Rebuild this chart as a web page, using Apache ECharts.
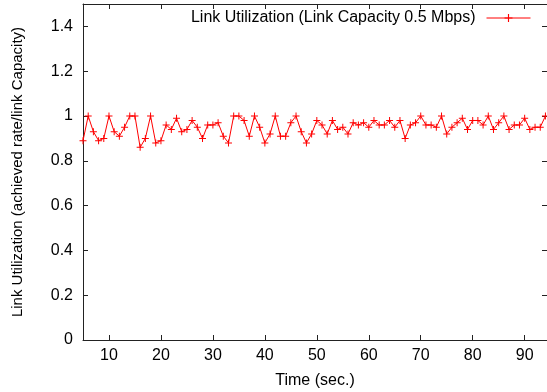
<!DOCTYPE html>
<html>
<head>
<meta charset="utf-8">
<title>Link Utilization</title>
<script src="https://cdn.jsdelivr.net/npm/echarts@6/dist/echarts.min.js"></script>
<style>
    html, body { margin: 0; padding: 0; background: #fff; }
    #container { width: 547px; height: 392px; }
</style>
</head>
<body>
<div id="container"></div>
<script>
// time of each sample (sec.)
const times = [
    5, 6, 7, 8, 9, 10, 11, 12, 13, 14, 15, 16, 17, 18, 19, 20, 21, 22, 23, 24,
    25, 26, 27, 28, 29, 30, 31, 32, 33, 34, 35, 36, 37, 38, 39, 40, 41, 42, 43, 44,
    45, 46, 47, 48, 49, 50, 51, 52, 53, 54, 55, 56, 57, 58, 59, 60, 61, 62, 63, 64,
    65, 66, 67, 68, 69, 70, 71, 72, 73, 74, 75, 76, 77, 78, 79, 80, 81, 82, 83, 84,
    85, 86, 87, 88, 89, 90, 91, 92, 93, 94
];

// achieved rate / link capacity
const utilization = [
    0.89, 1.00, 0.93, 0.89, 0.90, 1.00, 0.93, 0.91, 0.95, 1.00,
    1.00, 0.86, 0.90, 1.00, 0.88, 0.89, 0.96, 0.94, 0.99, 0.93,
    0.94, 0.98, 0.95, 0.90, 0.96, 0.96, 0.97, 0.91, 0.88, 1.00,
    1.00, 0.98, 0.91, 1.00, 0.95, 0.88, 0.92, 1.00, 0.91, 0.91,
    0.97, 1.00, 0.93, 0.88, 0.92, 0.98, 0.96, 0.92, 0.98, 0.94,
    0.95, 0.92, 0.97, 0.96, 0.97, 0.95, 0.98, 0.96, 0.96, 0.98,
    0.95, 0.98, 0.90, 0.96, 0.97, 1.00, 0.96, 0.96, 0.95, 1.00,
    0.92, 0.95, 0.97, 0.99, 0.94, 0.98, 0.98, 0.96, 1.00, 0.94,
    0.97, 1.00, 0.94, 0.96, 0.96, 0.99, 0.94, 0.95, 0.95, 1.00
];

const xTicks = [10, 20, 30, 40, 50, 60, 70, 80, 90];
const yTicks = [0, 0.2, 0.4, 0.6, 0.8, 1, 1.2, 1.4];

const seriesName = 'Link Utilization (Link Capacity 0.5 Mbps)';

const FONT = 'Liberation Sans, Arial, Helvetica, sans-serif';
const AXIS_COLOR = '#222';
const RED = '#ff0000';

// gnuplot style "+" point
const plusSymbol = 'path://M3,0h1v3h3v1h-3v3h-1v-3h-3v-1h3z';

const dom = document.getElementById('container');
const myChart = echarts.init(dom, null, { renderer: 'canvas' });

function xAxisDef(position, withLabels) {
    return {
        type: 'value',
        position: position,
        min: 5,
        max: 94.3,
        name: withLabels ? 'Time (sec.)' : '',
        nameLocation: 'middle',
        nameGap: 33,
        nameTextStyle: { fontFamily: FONT, fontSize: 16, color: '#000' },
        axisLine: { show: true, onZero: false, lineStyle: { color: AXIS_COLOR, width: 1 } },
        axisTick: {
            show: true,
            inside: true,
            length: 5,
            customValues: xTicks,
            lineStyle: { color: AXIS_COLOR, width: 1 }
        },
        axisLabel: {
            show: withLabels,
            customValues: xTicks,
            margin: 8,
            fontFamily: FONT,
            fontSize: 16,
            color: '#000'
        },
        splitLine: { show: false }
    };
}

function yAxisDef(position, withLabels) {
    return {
        type: 'value',
        position: position,
        min: 0,
        max: 1.5,
        name: withLabels ? 'Link Utilization (achieved rate/link Capacity)' : '',
        nameLocation: 'middle',
        nameGap: 58,
        nameTextStyle: { fontFamily: FONT, fontSize: 15, color: '#000' },
        axisLine: { show: true, onZero: false, lineStyle: { color: AXIS_COLOR, width: 1 } },
        axisTick: {
            show: true,
            inside: true,
            length: 5,
            customValues: yTicks,
            lineStyle: { color: AXIS_COLOR, width: 1 }
        },
        axisLabel: {
            show: withLabels,
            customValues: yTicks,
            margin: 10,
            fontFamily: FONT,
            fontSize: 16,
            color: '#000'
        },
        splitLine: { show: false }
    };
}

const option = {
    backgroundColor: '#fff',
    animation: false,
    grid: {
        left: 83,
        right: 0,
        top: 4,
        bottom: 52,
        containLabel: false,
        outerBoundsMode: 'none'
    },
    legend: {
        data: [seriesName],
        right: 16,
        top: 10,
        padding: 0,
        align: 'right',
        itemWidth: 44,
        itemHeight: 10,
        lineStyle: { width: 1 },
        textStyle: {
            fontFamily: FONT,
            fontSize: 16,
            color: '#000',
            padding: [0, 6, 0, 0]
        }
    },
    xAxis: [xAxisDef('bottom', true), xAxisDef('top', false)],
    yAxis: [yAxisDef('left', true), yAxisDef('right', false)],
    series: [{
        name: seriesName,
        type: 'line',
        xAxisIndex: 0,
        yAxisIndex: 0,
        data: times.map((t, i) => [t, utilization[i]]),
        symbol: plusSymbol,
        symbolSize: 7,
        showAllSymbol: true,
        itemStyle: { color: RED },
        lineStyle: { color: RED, width: 1 }
    }]
};

myChart.setOption(option, true);
</script>
</body>
</html>
